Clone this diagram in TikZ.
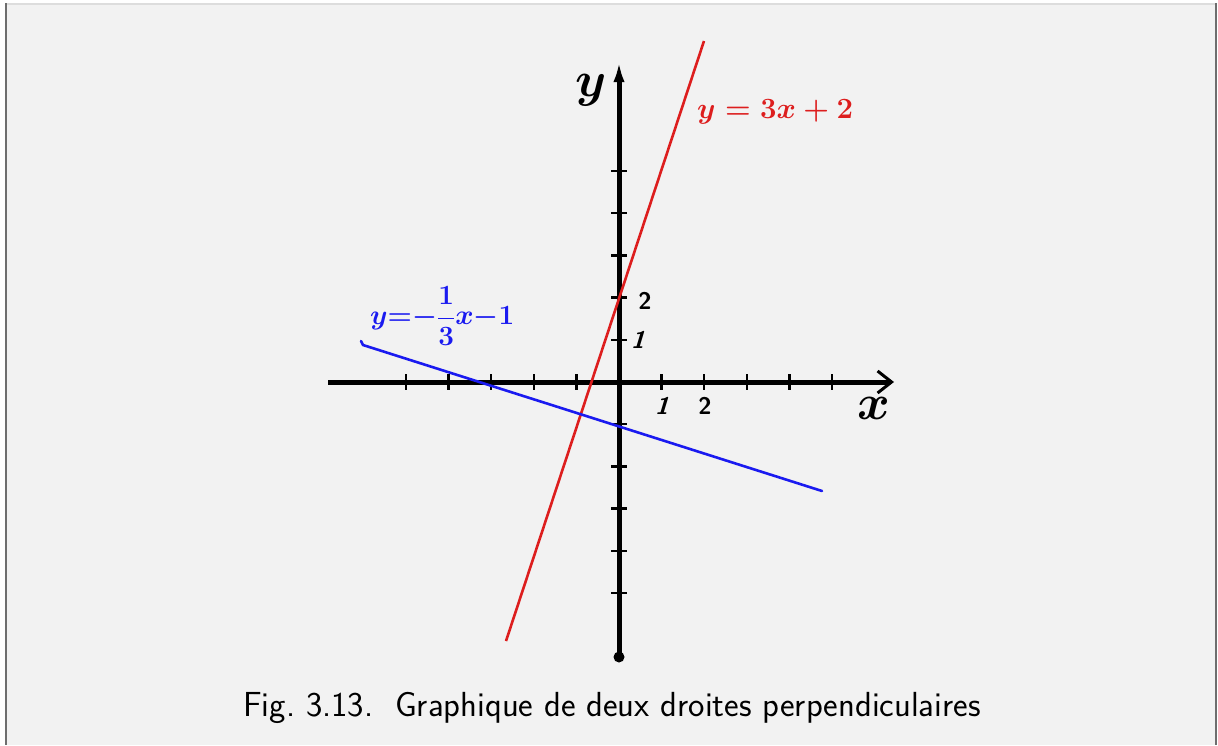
\documentclass[tikz,border=0pt]{standalone}
\usepackage{graphicx}
\usetikzlibrary{arrows.meta,calc}
\definecolor{panel}{HTML}{F2F2F2}
\definecolor{frameline}{HTML}{6E6E6E}
\definecolor{topline}{HTML}{DDDDDD}
\definecolor{redline}{HTML}{DD1E1E}
\definecolor{blueline}{HTML}{1A1AF0}
\tikzset{
  axis/.style={line width=5pt,black},
  tickmark/.style={line width=2.4pt,black},
  graph/.style={line width=2.6pt},
  ticklabel/.style={font=\fontsize{24}{28}\selectfont\sffamily\bfseries,inner sep=0pt},
  mathlabel/.style={font=\fontsize{24.88}{30}\selectfont\boldmath,inner sep=0pt},
}
\begin{document}
\begin{tikzpicture}[x=1pt,y=-1pt]
\useasboundingbox (0,0) rectangle (1218,745);
% panel
\fill[panel] (6,4) rectangle (1216,745);
\draw[topline,line width=1.2pt] (6,4) -- (1216,4);
\draw[frameline,line width=2pt] (6,3) -- (6,745);
\draw[frameline,line width=2pt] (1215.5,3) -- (1215.5,745);

% axes
\coordinate (O) at (619,382);
\coordinate (xl) at (328,382);
\coordinate (xr) at (894,382);
\coordinate (yb) at (619,657);
\coordinate (yt) at (619,60);
\draw[axis,-{Straight Barb[length=14pt,width=22pt,line width=3pt]}] (xl) -- (xr);
\draw[axis,-{Latex[length=22pt,width=11pt]}] (yb) -- (yt);
\fill (yb) circle (5.5pt);

% ticks on x axis
\foreach \i in {-5,-4,-3,-2,-1,1,2,3,4,5}
  \draw[tickmark] ($(O)+(\i*42.6,-8)$) -- ($(O)+(\i*42.6,8)$);
% ticks on y axis
\foreach \j in {-5,-4,-3,-2,-1,1,2,3,4,5}
  \draw[tickmark] ($(O)+(-8,\j*42.2)$) -- ($(O)+(8,\j*42.2)$);

% lines
\coordinate (r1) at (506,641);
\coordinate (r2) at (704,41);
\draw[graph,redline] (r1) -- (r2);
\coordinate (b0) at (361,341);
\coordinate (b1) at (363,345);
\coordinate (b2) at (822,491);
\draw[graph,blueline,line cap=round] (b0) -- (b1) -- (b2);

% labels
\node[mathlabel] (ylab) at (591,90) {\scalebox{2}{$y$}};
\node[mathlabel] (xlab) at (874,408) {\scalebox{2}{$x$}};
\node[ticklabel] (ty2) at (645,301) {2};
\node[ticklabel,xslant=0.3] (ty1) at (640,340) {1};
\node[ticklabel,xslant=0.3] (tx1) at (664,406) {1};
\node[ticklabel] (tx2) at (705,406) {2};
\node[mathlabel,text=redline,anchor=west] (eqr) at (697,112) {\scalebox{1.18}{$y=3x+2$}};
\node[mathlabel,text=blueline,anchor=west] (eqb) at (370,316) {\scalebox{1.12}{$\displaystyle y{=}{-}\frac{1}{3}x{-}1$}};

% caption
\node[font=\fontsize{34.8}{40}\selectfont\sffamily,inner sep=0pt] (cap) at (612,708)
  {Fig.~3.13.\ \ Graphique de deux droites perpendiculaires};
\end{tikzpicture}
\end{document}
